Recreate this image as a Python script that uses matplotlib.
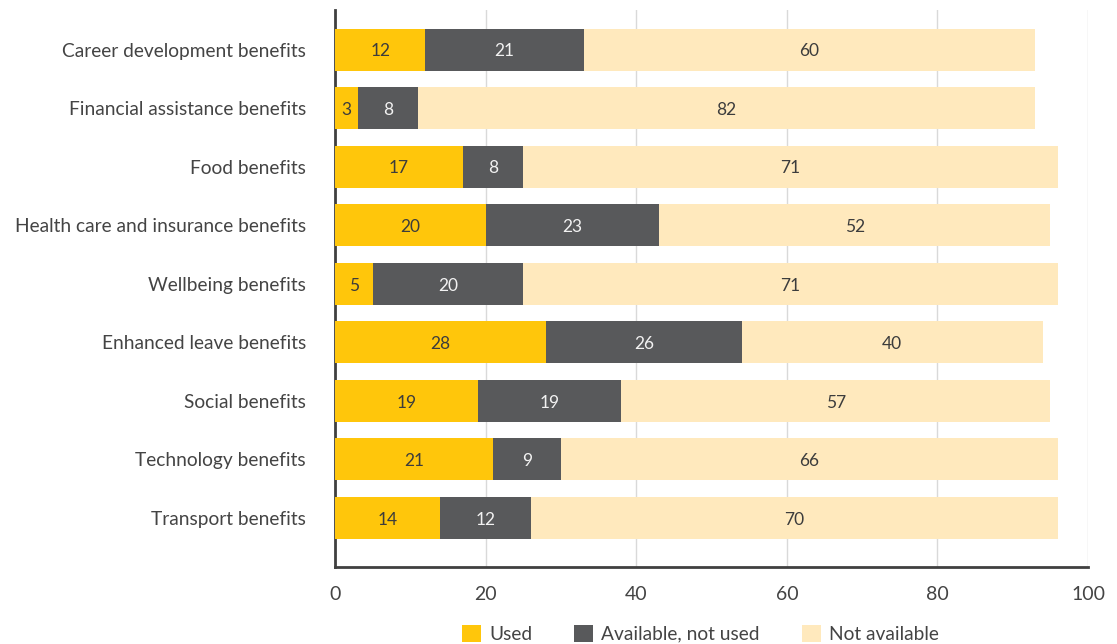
import numpy as np
import matplotlib.pyplot as plt
from matplotlib.patches import Patch

categories = [
    "Career development benefits",
    "Financial assistance benefits",
    "Food benefits",
    "Health care and insurance benefits",
    "Wellbeing benefits",
    "Enhanced leave benefits",
    "Social benefits",
    "Technology benefits",
    "Transport benefits",
]
used = [12, 3, 17, 20, 5, 28, 19, 21, 14]
avail_not_used = [21, 8, 8, 23, 20, 26, 19, 9, 12]
not_available = [60, 82, 71, 52, 71, 40, 57, 66, 70]

series_names = ["Used", "Available, not used", "Not available"]
colors = ["#FFC60B", "#58595B", "#FFE9BD"]
label_colors = ["#3C3C3C", "#F2F2F2", "#3C3C3C"]

plt.rcParams['font.family'] = ['Lato', 'DejaVu Sans']

fig = plt.figure(figsize=(11.17, 6.44), dpi=100)
ax = fig.add_axes([0.2999, 0.1196, 0.6742, 0.8650])

y = np.arange(len(categories))
left = np.zeros(len(categories))
for vals, col, tcol in zip([used, avail_not_used, not_available], colors, label_colors):
    vals = np.array(vals, dtype=float)
    ax.barh(y, vals, left=left, height=0.72, color=col, zorder=3)
    for yi, l, v in zip(y, left, vals):
        ax.text(l + v / 2, yi + 0.03, str(int(v)), ha="center", va="center",
                fontsize=12.5, color=tcol, zorder=4)
    left += vals

ax.set_xlim(0, 100)
ax.set_ylim(len(categories) - 1 + 0.84, -0.68)
ax.set_yticks(y)
ax.set_yticklabels(categories, fontsize=13.8, color="#444444")
ax.set_xticks([0, 20, 40, 60, 80, 100])
ax.tick_params(axis="x", labelsize=14, colors="#444444", length=0, pad=14)
ax.tick_params(axis="y", length=0, pad=21)
ax.grid(axis="x", color="#D9D9D9", linewidth=1, zorder=0)

for s in ["top", "right"]:
    ax.spines[s].set_visible(False)
for s in ["left", "bottom"]:
    ax.spines[s].set_color("#404040")
    ax.spines[s].set_linewidth(2)

handles = [Patch(facecolor=c, label=n) for c, n in zip(colors, series_names)]
fig.legend(handles=handles, loc="lower center", bbox_to_anchor=(0.627, -0.025),
           ncol=3, frameon=False, fontsize=13.8, handlelength=1.0, handleheight=1.0,
           columnspacing=2.2, handletextpad=0.4, labelcolor="#444444")

fig.savefig("out.png", dpi=100)
